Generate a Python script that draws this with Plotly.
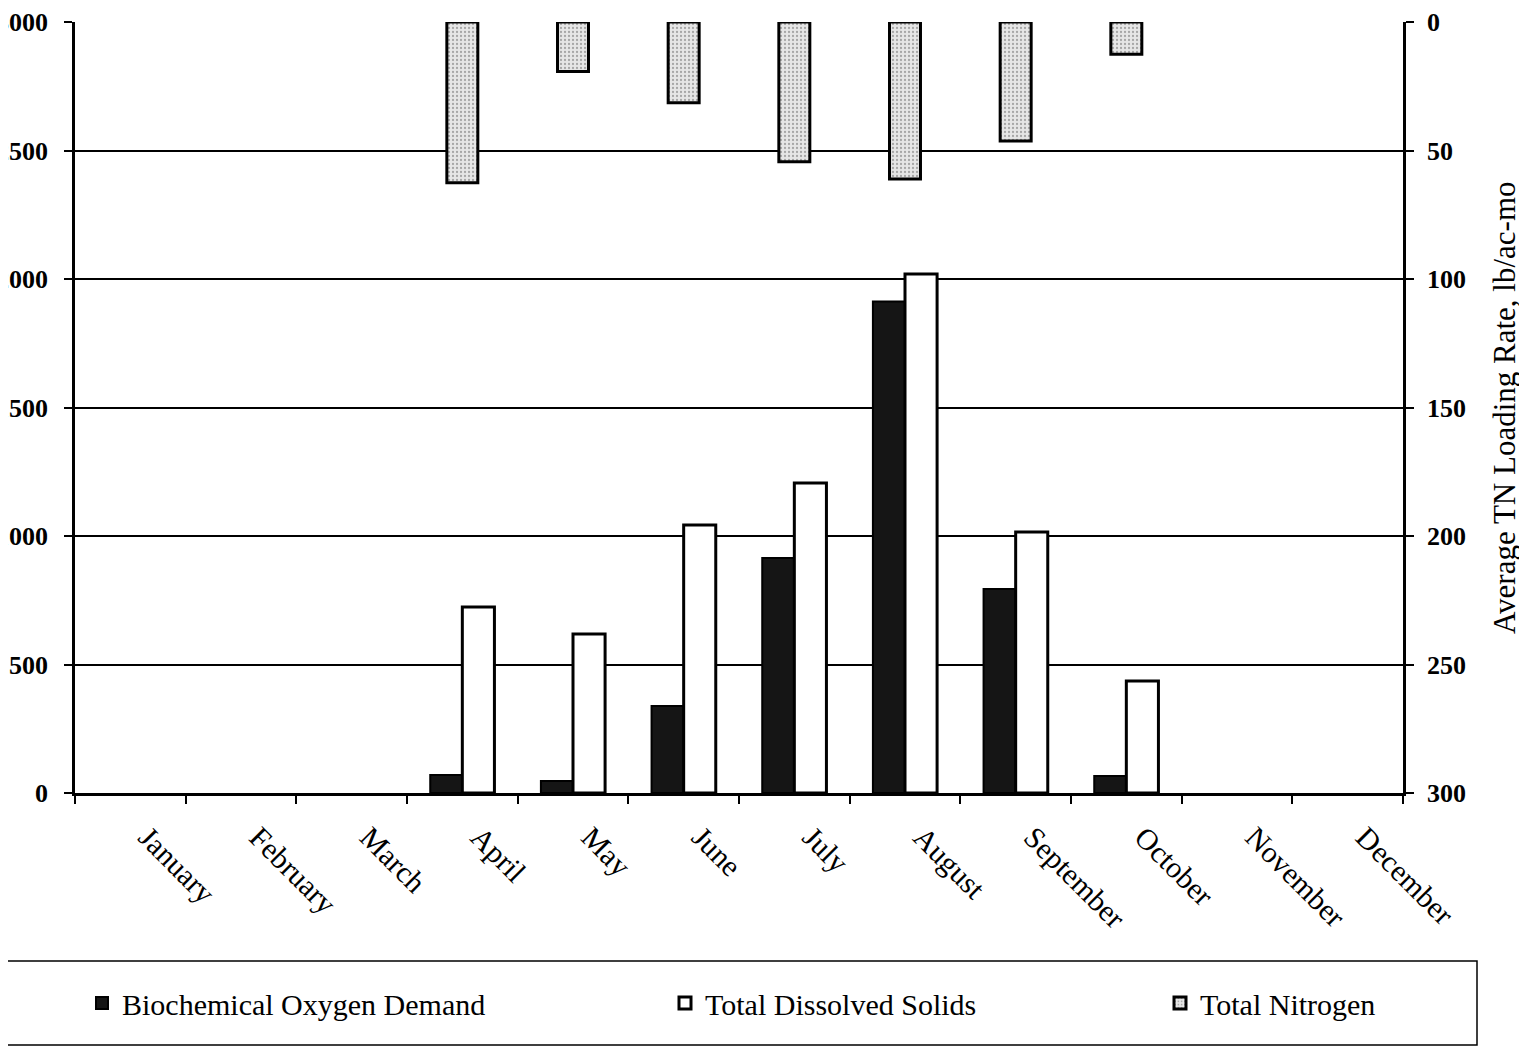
import plotly.graph_objects as go

months = ["January", "February", "March", "April", "May", "June", "July",
          "August", "September", "October", "November", "December"]
bod = [None, None, None, 70, 47, 339, 914, 1912, 794, 66, None, None]
tds = [None, None, None, 724, 619, 1043, 1206, 2019, 1016, 436, None, None]
tn = [None, None, None, 62.5, 19.3, 31.4, 54.4, 61.1, 46.3, 12.5, None, None]

left_ticks = [0, 500, 1000, 1500, 2000, 2500, 3000]
right_ticks = [0, 50, 100, 150, 200, 250, 300]

FONT = "Liberation Serif, Times New Roman, serif"
OFF = 8  # page body margin
PAGE_W, PAGE_H = 1527, 1048
W, H = PAGE_W - OFF, PAGE_H - OFF
# plot area in page coordinates
PX0, PX1, PY0, PY1 = 75, 1403, 22, 793
L, R = PX0 - OFF, W - (PX1 - OFF)
T, B = PY0 - OFF, H - (PY1 - OFF)
PW, PH = PX1 - PX0, PY1 - PY0

def px_x(x):
    return (x - PX0) / PW

def px_y(y):
    return (PY1 - y) / PH

fig = go.Figure()
fig.add_trace(go.Bar(
    x=months, y=bod, name="Biochemical Oxygen Demand",
    width=0.29, offset=-0.29,
    marker=dict(color="#151515", line=dict(color="black", width=2)),
    legend="legend", yaxis="y"))
fig.add_trace(go.Bar(
    x=months, y=tds, name="Total Dissolved Solids",
    width=0.29, offset=0.0,
    marker=dict(color="white", line=dict(color="black", width=3)),
    legend="legend2", yaxis="y"))
fig.add_trace(go.Bar(
    x=months, y=tn, name="Total Nitrogen",
    width=0.28, offset=-0.14,
    marker=dict(color="#e6e6e6", line=dict(color="black", width=3),
                pattern=dict(shape=".", fgcolor="#666666", size=4, solidity=0.25)),
    legend="legend3", yaxis="y2"))

legend_font = dict(family=FONT, size=30, color="black")

fig.update_layout(
    width=W, height=H,
    margin=dict(l=L, r=R, t=T, b=B, autoexpand=False),
    paper_bgcolor="white", plot_bgcolor="white",
    font=dict(family=FONT, color="black", size=24),
    barmode="overlay",
    xaxis=dict(
        type="category", categoryorder="array", categoryarray=months,
        range=[-0.5, 11.5],
        tickmode="array", tickvals=months, ticktext=months,
        tickson="boundaries", ticks="outside", ticklen=8, tickwidth=1.5,
        tickcolor="black", tickangle=45, ticklabelstandoff=12,
        ticklabelshift=17,
        tickfont=dict(family=FONT, size=30, color="black"),
        showline=True, linecolor="black", linewidth=2.5,
        showgrid=False, zeroline=False, automargin=False,
    ),
    yaxis=dict(
        range=[0, 3000], tickmode="array", tickvals=left_ticks,
        ticktext=[str(v) for v in left_ticks],
        ticks="outside", ticklen=8, tickwidth=1.5, tickcolor="black",
        ticklabelstandoff=11,
        tickfont=dict(family=FONT, size=26, color="black", weight="bold"),
        showline=True, linecolor="black", linewidth=2.5,
        showgrid=True, gridcolor="black", gridwidth=1.5,
        zeroline=False, automargin=False,
    ),
    yaxis2=dict(
        overlaying="y", side="right", range=[300, 0],
        tickmode="array", tickvals=right_ticks,
        ticktext=[str(v) for v in right_ticks],
        ticks="outside", ticklen=8, tickwidth=1.5, tickcolor="black",
        ticklabelstandoff=8,
        tickfont=dict(family=FONT, size=26, color="black", weight="bold"),
        showline=True, linecolor="black", linewidth=2.5,
        showgrid=False, zeroline=False, automargin=False,
    ),
    showlegend=True,
    legend=dict(x=px_x(82), y=px_y(1003), xanchor="left", yanchor="middle",
                bgcolor="rgba(0,0,0,0)", font=legend_font),
    legend2=dict(x=px_x(665), y=px_y(1003), xanchor="left", yanchor="middle",
                 bgcolor="rgba(0,0,0,0)", font=legend_font),
    legend3=dict(x=px_x(1160), y=px_y(1003), xanchor="left", yanchor="middle",
                 bgcolor="rgba(0,0,0,0)", font=legend_font),
    shapes=[dict(type="rect", xref="paper", yref="paper",
                 x0=px_x(-5), x1=px_x(1477), y0=px_y(1045), y1=px_y(961),
                 line=dict(color="black", width=1.5), fillcolor="rgba(0,0,0,0)",
                 layer="above")],
    annotations=[dict(text="Average TN Loading Rate, lb/ac-mo",
                      xref="paper", yref="paper", x=px_x(1485), y=0.5,
                      xanchor="left", yanchor="middle", textangle=-90,
                      showarrow=False,
                      font=dict(family=FONT, size=31, color="black"))],
)

fig.write_html("out.html")
